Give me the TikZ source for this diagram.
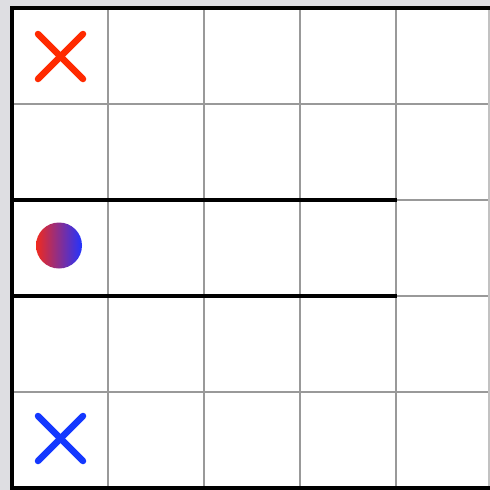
\documentclass[tikz,border=0pt]{standalone}
\usetikzlibrary{shadings}
\definecolor{bggray}{HTML}{DEDEE2}
\definecolor{gridgray}{HTML}{999999}
\definecolor{xred}{HTML}{FF2A00}
\definecolor{xblue}{HTML}{1438FF}
\definecolor{cred}{HTML}{F02A1E}
\definecolor{cblue}{HTML}{2233FF}
\tikzset{
  gridline/.style={draw=gridgray, line width=2.3pt},
  border/.style={draw=black, line width=4.8pt},
  wall/.style={draw=black, line width=4.3pt},
  cross/.style={line width=6.5pt, line cap=round},
}
\begin{document}
\begin{tikzpicture}[x=1pt,y=-1pt]
\useasboundingbox (0,0) rectangle (490,490);
\fill[bggray] (0,0) rectangle (490,490);
\fill[white] (12,8) rectangle (490,490);
% grid
\foreach \x in {108,204,300,396} \draw[gridline] (\x,8) -- (\x,490);
\foreach \y in {104,200,296,392} \draw[gridline] (12,\y) -- (490,\y);
\draw[draw=gridgray!60, line width=1.5pt] (489,8) -- (489,488);
% walls
\draw[wall] (12,200) -- (397,200);
\draw[wall] (12,296) -- (397,296);
% borders
\draw[border] (490,8) -- (12,8) -- (12,490);
\draw[border] (12,488) -- (490,488);
% red cross
\draw[cross, xred] (38,34) -- (83,79);
\draw[cross, xred] (38,79) -- (83,34);
% blue cross
\draw[cross, xblue] (38,416) -- (83,461);
\draw[cross, xblue] (38,461) -- (83,416);
% gradient circle
\shade[left color=cred, right color=cblue] (59,245.5) circle (23);
\end{tikzpicture}
\end{document}
